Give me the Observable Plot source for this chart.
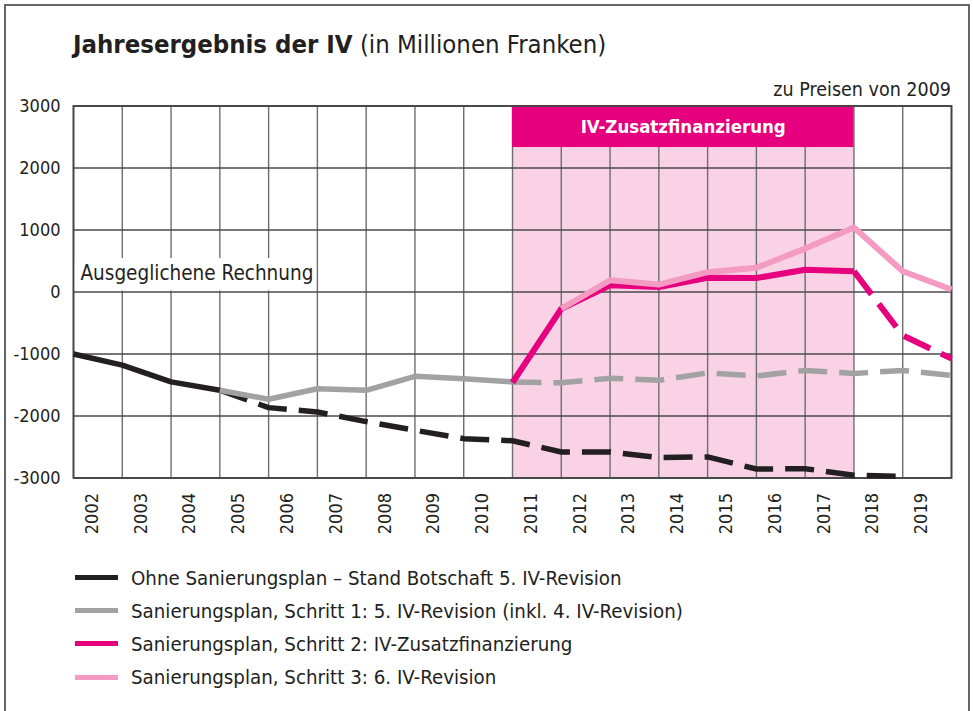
<!DOCTYPE html>
<html>
<head>
<meta charset="utf-8">
<script src="https://cdn.jsdelivr.net/npm/d3@7"></script>
<script src="https://cdn.jsdelivr.net/npm/@observablehq/plot@0.6"></script>
<style>
  html, body { margin: 0; padding: 0; background: #fff; }
  body { width: 973px; height: 711px; overflow: hidden; position: relative;
         font-family: "Liberation Sans Narrow", "DejaVu Sans Condensed", "Roboto", sans-serif; color: #231f20; }
  #border { position: absolute; left: 4px; top: 4px; width: 966px; height: 730px; border: 2px solid #666; box-sizing: border-box; }
  #title { position: absolute; left: 73px; top: 29px; font-size: 25.5px; white-space: nowrap; }
  #title b { font-weight: bold; }
  #unit { position: absolute; right: 22px; top: 78px; font-size: 19.5px; white-space: nowrap; }
  #chart { position: absolute; left: 0; top: 95px; }
  #legend { position: absolute; left: 75px; top: 561px; font-size: 20.3px; }
  .item { display: flex; align-items: center; height: 33.2px; white-space: nowrap; }
  .sw { width: 43px; height: 5px; margin-right: 13px; }
</style>
</head>
<body>
<div id="border"></div>
<div id="title"><b>Jahresergebnis der IV</b> (in Millionen Franken)</div>
<div id="unit">zu Preisen von 2009</div>
<div id="chart"></div>
<div id="legend"></div>
<script>
// ---- data ----
const yearLabels = ["2002","2003","2004","2005","2006","2007","2008","2009","2010","2011","2012","2013","2014","2015","2016","2017","2018","2019"];
const pointYears = [2002,2003,2004,2005,2006,2007,2008,2009,2010,2011,2012,2013,2014,2015,2016,2017,2018,2019,2020];
const yTicks = [-3000,-2000,-1000,0,1000,2000,3000];

const seriesNames = [
  "Ohne Sanierungsplan – Stand Botschaft 5. IV-Revision",
  "Sanierungsplan, Schritt 1: 5. IV-Revision (inkl. 4. IV-Revision)",
  "Sanierungsplan, Schritt 2: IV-Zusatzfinanzierung",
  "Sanierungsplan, Schritt 3: 6. IV-Revision"
];
const ohne    = [-1000,-1180,-1450,-1585,-1865,-1935,-2090,-2230,-2365,-2400,-2580,-2580,-2670,-2660,-2855,-2850,-2955,-2975,null];
const schritt1 = [null,null,null,-1585,-1730,-1560,-1585,-1360,-1400,-1450,-1465,-1390,-1425,-1305,-1355,-1265,-1315,-1265,-1345];
const schritt2 = [null,null,null,null,null,null,null,null,null,-1460,-270,110,80,230,225,360,335,-700,-1075];
const schritt3 = [null,null,null,null,null,null,null,null,null,null,-270,190,120,320,390,700,1040,335,40];
// year from which each series is drawn dashed (projection); null = never
const dashFrom = [2005, 2011, 2018, null];

const periodLabel = "IV-Zusatzfinanzierung";
const periodStart = 2011, periodEnd = 2018;
const balanceLabel = "Ausgeglichene Rechnung";

// ---- styles ----
const colors = ["#231f20", "#a2a2a2", "#e6007e", "#f39bc3"];
const widths = [5.5, 5.5, 6, 6];
const FONT = '"Liberation Sans Narrow", "DejaVu Sans Condensed", "Roboto", sans-serif';

const valuesAll = [ohne, schritt1, schritt2, schritt3];
const solidRows = [], dashRows = [];
valuesAll.forEach((vals, si) => {
  pointYears.forEach((yr, i) => {
    const v = vals[i];
    if (v == null) return;
    const row = {year: yr, value: v, s: si};
    if (dashFrom[si] == null || yr <= dashFrom[si]) solidRows.push(row);
    if (dashFrom[si] != null && yr >= dashFrom[si]) dashRows.push(row);
  });
});

const lineMarks = [];
[0,1,2,3].forEach(si => {
  const solid = solidRows.filter(d => d.s === si);
  const dash = dashRows.filter(d => d.s === si);
  if (dash.length) lineMarks.push(Plot.line(dash, {x: "year", y: "value", stroke: colors[si], strokeWidth: widths[si],
    strokeDasharray: "29,12", strokeLinecap: "butt", strokeLinejoin: "miter"}));
  if (solid.length) lineMarks.push(Plot.line(solid, {x: "year", y: "value", stroke: colors[si], strokeWidth: widths[si],
    strokeLinecap: "butt", strokeLinejoin: "miter"}));
});

const chart = Plot.plot({
  width: 973,
  height: 460,
  marginLeft: 73,
  marginRight: 22,
  marginTop: 10.5,
  marginBottom: 77.5,
  style: {fontFamily: FONT, fontSize: "18px", color: "#231f20", background: "transparent"},
  x: {domain: [2002, 2020], axis: null},
  y: {domain: [-3000, 3000], axis: null},
  marks: [
    Plot.rect([0], {x1: periodStart, x2: periodEnd, y1: -3000, y2: 3000, fill: "#f9d3e5"}),
    Plot.ruleX(pointYears, {stroke: "#6e6e6e", strokeWidth: 1.4}),
    Plot.ruleY(yTicks, {stroke: "#4a4a4a", strokeWidth: 1.6}),
    Plot.rect([0], {x1: 2002, x2: 2006.96, y1: 0, y2: 540, fill: "white", inset: 0, insetBottom: 1}),
    Plot.text([balanceLabel], {x: 2002, y: 0, text: d => d, textAnchor: "start", dx: 7, dy: -19, fontSize: 20.5, fill: "#231f20"}),
    Plot.rect([0], {x1: periodStart, x2: periodEnd, y1: 2330, y2: 3000, fill: "#e6007e"}),
    Plot.text([periodLabel], {x: (periodStart + periodEnd) / 2, y: 2665, text: d => d, fill: "white", fontWeight: "bold", fontSize: 18.5}),
    Plot.frame({stroke: "#444", strokeWidth: 1.8}),
    ...lineMarks,
    Plot.axisY(yTicks, {tickSize: 0, tickPadding: 13, tickFormat: d => String(d), fontSize: 18, fill: "#231f20", label: null}),
    Plot.text(yearLabels, {x: d => +d + 0.5, frameAnchor: "bottom", dy: 15, rotate: -90, textAnchor: "end", text: d => d, fontSize: 18, fill: "#231f20"})
  ]
});
document.getElementById("chart").appendChild(chart);

// legend
const legend = document.getElementById("legend");
seriesNames.forEach((name, i) => {
  const it = document.createElement("div");
  it.className = "item";
  const sw = document.createElement("div");
  sw.className = "sw";
  sw.style.background = colors[i];
  const tx = document.createElement("span");
  tx.textContent = name;
  it.appendChild(sw); it.appendChild(tx);
  legend.appendChild(it);
});
</script>
</body>
</html>
